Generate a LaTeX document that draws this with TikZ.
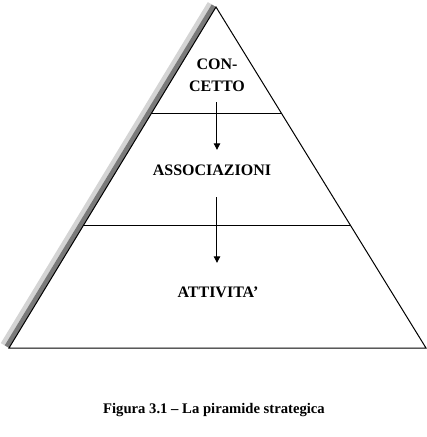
\documentclass[tikz,border=0pt]{standalone}
\usepackage{fontspec}
\setmainfont{Liberation Serif}
\usetikzlibrary{arrows.meta}
\begin{document}
\begin{tikzpicture}[x=0.75pt,y=-0.75pt,
  lbl/.style={font=\bfseries\fontsize{12}{16.5}\selectfont, inner sep=0pt, align=center},
  captext/.style={font=\bfseries\fontsize{11}{13}\selectfont, inner sep=0pt},
  arr/.style={line width=0.75pt, -{Triangle[length=5pt,width=4.8pt]}},
  pyredge/.style={line width=0.75pt, black},
  shadowdark/.style={fill=black!52, draw=none},
  shadowlight/.style={fill=black!17, draw=none}]
\useasboundingbox (0,0) rectangle (427,437);
% shadow
\fill[shadowlight] (211.7,4.4) -- (4.7,345.4) -- (0.8,343.1) -- (207.8,2.1) -- cycle;
\fill[shadowdark] (216,7) -- (9,348) -- (4.7,345.4) -- (211.7,4.4) -- cycle;
% pyramid
\coordinate (apex) at (216,7);
\coordinate (bl) at (9,348);
\coordinate (br) at (426,348);
\draw[pyredge] (apex) -- (bl) -- (br) -- cycle;
\coordinate (l1a) at (151.6,113);
\coordinate (l1b) at (281.8,113);
\coordinate (l2a) at (83.7,225);
\coordinate (l2b) at (351,225);
\draw[pyredge] (l1a) -- (l1b);
\draw[pyredge] (l2a) -- (l2b);
% labels
\node[lbl] (conc) at (217,75) {CON-\\CETTO};
\node[lbl] (assoc) at (212,170) {ASSOCIAZIONI};
\node[lbl] (att) at (218,292) {ATTIVITA'};
\coordinate (a1s) at (217,102);
\coordinate (a1e) at (217,150);
\coordinate (a2s) at (217,197);
\coordinate (a2e) at (217,263);
\draw[arr] (a1s) -- (a1e);
\draw[arr] (a2s) -- (a2e);
\node[captext] (caption) at (214,410) {Figura 3.1 – La piramide strategica};
\end{tikzpicture}
\end{document}
